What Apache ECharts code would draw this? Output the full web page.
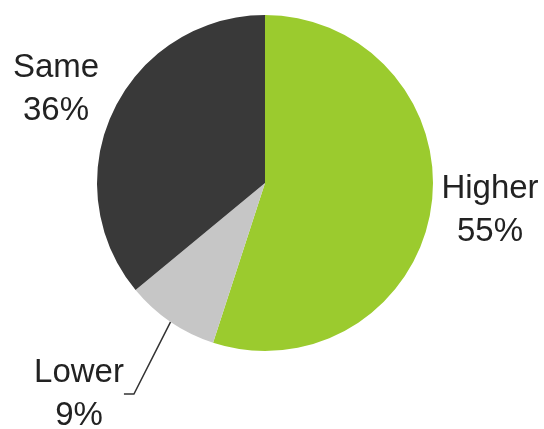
<!DOCTYPE html>
<html>
<head>
<meta charset="utf-8">
<script src="https://cdn.jsdelivr.net/npm/echarts@6/dist/echarts.min.js"></script>
<style>
  html, body { margin: 0; padding: 0; background: #fff; }
  #pie { width: 544px; height: 429px; }
</style>
</head>
<body>
<div id="pie"></div>
<script>
var categories = ['Higher', 'Lower', 'Same'];
var shares = [55, 9, 36];
var sliceColors = ['#9bcb2e', '#c6c6c6', '#393939'];

// where each label sits (centre of the text block)
var labelSpots = {
    0: { x: 490, y: 210 },
    1: { x: 79, y: 394 },
    2: { x: 56, y: 89 }
};

var pieChart = echarts.init(document.getElementById('pie'));

var pieData = categories.map(function (name, i) {
    return {
        name: name,
        value: shares[i],
        itemStyle: { color: sliceColors[i] },
        labelLine: { show: name === 'Lower' }
    };
});

var option = {
    animation: false,
    series: [
        {
            type: 'pie',
            radius: 168,
            center: [265, 183],
            startAngle: 90,
            clockwise: true,
            data: pieData,
            label: {
                show: true,
                position: 'outside',
                formatter: '{b}\n{d}%',
                fontFamily: 'Liberation Sans, Arial',
                fontSize: 33,
                lineHeight: 43,
                color: '#222',
                align: 'center',
                overflow: 'none'
            },
            labelLine: {
                length: 70,
                length2: 10,
                lineStyle: { color: '#333', width: 1.5 }
            },
            labelLayout: function (params) {
                var spot = labelSpots[params.dataIndex];
                if (!spot) return {};
                return { x: spot.x, y: spot.y, align: 'center', verticalAlign: 'middle' };
            }
        }
    ]
};

pieChart.setOption(option);
</script>
</body>
</html>
